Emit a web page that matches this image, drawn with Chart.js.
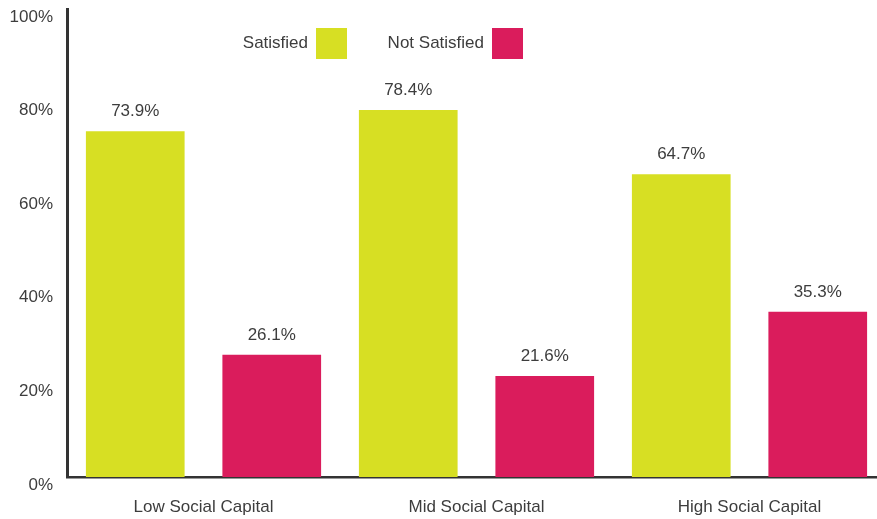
<!DOCTYPE html>
<html>
<head>
<meta charset="utf-8">
<script src="https://cdn.jsdelivr.net/npm/chart.js@4/dist/chart.umd.min.js"></script>
<style>
  html, body { margin: 0; padding: 0; background: #fff; overflow: hidden; }
  #wrap { width: 877px; height: 519px; overflow: hidden; }
</style>
</head>
<body>
<div id="wrap"><canvas id="chart_social" width="900" height="519"></canvas></div>
<script>
const categories = ['Low Social Capital', 'Mid Social Capital', 'High Social Capital'];
const satisfied = [73.9, 78.4, 64.7];
const notSatisfied = [26.1, 21.6, 35.3];
const yTicks = [0, 20, 40, 60, 80, 100];

const textColor = '#3d3d3d';
const font = { family: 'Liberation Sans, Arial, sans-serif', size: 17 };

// value labels above each bar + legend with text before the swatch
const barLabels = {
    id: 'barLabels',
    afterDatasetsDraw(chart) {
        const ctx = chart.ctx;
        ctx.save();
        ctx.font = font.size + 'px ' + font.family;
        ctx.fillStyle = textColor;
        ctx.textAlign = 'center';
        ctx.textBaseline = 'bottom';
        chart.data.datasets.forEach((ds, i) => {
            chart.getDatasetMeta(i).data.forEach((bar, j) => {
                ctx.fillText(ds.data[j].toFixed(1) + '%', bar.x, bar.y - 11);
            });
        });

        // legend
        const legendX = [308, 484];
        ctx.textAlign = 'right';
        ctx.textBaseline = 'middle';
        chart.data.datasets.forEach((ds, i) => {
            ctx.fillStyle = textColor;
            ctx.fillText(ds.label, legendX[i], 43);
            ctx.fillStyle = ds.backgroundColor;
            ctx.fillRect(legendX[i] + 8, 28, 31, 31);
        });
        ctx.restore();
    }
};

new Chart(document.getElementById('chart_social'), {
    type: 'bar',
    data: {
        labels: categories,
        datasets: [
            { label: 'Satisfied', data: satisfied, backgroundColor: '#d7df23', categoryPercentage: 1.0, barPercentage: 0.723 },
            { label: 'Not Satisfied', data: notSatisfied, backgroundColor: '#da1c5c', categoryPercentage: 1.0, barPercentage: 0.723 }
        ]
    },
    options: {
        responsive: false,
        animation: false,
        layout: { padding: { top: 9, right: 14, left: 0, bottom: 0 } },
        scales: {
            x: {
                grid: { display: false, drawTicks: false },
                border: { display: true, color: '#333', width: 2.5 },
                ticks: { color: textColor, font: font, padding: 20 },
                afterFit: function (scale) { scale.height = 42; }
            },
            y: {
                min: 0,
                max: 100,
                grid: { display: false, drawTicks: false },
                border: { display: true, color: '#333', width: 3 },
                afterBuildTicks: function (scale) { scale.ticks = yTicks.map(v => ({ value: v })); },
                ticks: {
                    color: textColor,
                    font: font,
                    padding: 14,
                    labelOffset: 8,
                    callback: function (value) { return value + '%'; }
                },
                afterFit: function (scale) {
                    scale.width = 67;
                    scale.paddingTop = 0;
                    scale.paddingBottom = 0;
                }
            }
        },
        plugins: {
            legend: { display: false },
            tooltip: { enabled: false }
        }
    },
    plugins: [barLabels]
});
</script>
</body>
</html>
